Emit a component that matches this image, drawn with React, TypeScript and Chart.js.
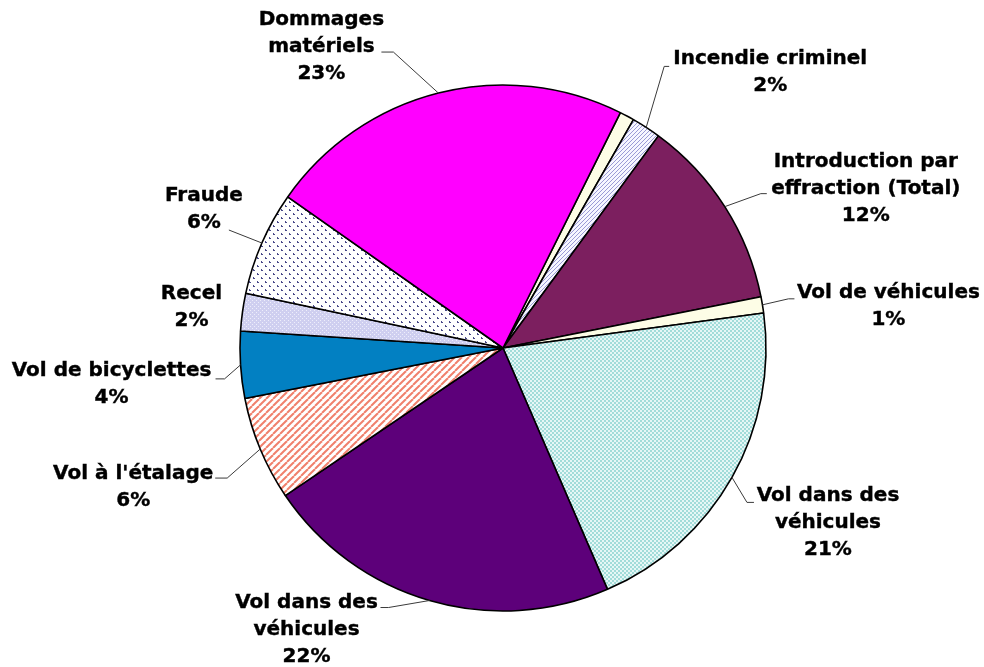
import React, { useEffect, useRef } from "react";
import { Chart, registerables } from "chart.js";

Chart.register(...registerables);

// Slices in clockwise order, starting just right of the top
const categories = [
  "",
  "Incendie criminel",
  "Introduction par\neffraction (Total)",
  "Vol de véhicules",
  "Vol dans des\nvéhicules",
  "Vol dans des\nvéhicules",
  "Vol à l'étalage",
  "Vol de bicyclettes",
  "Recel",
  "Fraude",
  "Dommages\nmatériels",
];
const values = [0.9, 1.8, 11.8, 1.0, 20.6, 22.0, 6.4, 4.1, 2.3, 6.4, 22.6];

// Label layout: block centre offset from the slice's outer mid point, leader attach offset from block centre, stub length
const labelLayout = [
  null,
  { dx: 124, dy: -55, ax: -101, ay: -6, stub: -5 },
  { dx: 141, dy: -18, ax: -99, ay: 5, stub: -6 },
  { dx: 126, dy: 1, ax: -94, ay: -7, stub: -6 },
  { dx: 96, dy: 45, ax: -74, ay: -20, stub: -7 },
  { dx: -123, dy: 29, ax: 74, ay: -22, stub: 8 },
  { dx: -127, dy: 38, ax: 82, ay: -9, stub: 12 },
  { dx: -129, dy: 19, ax: 104, ay: -5, stub: 9 },
  { dx: -51, dy: -5, ax: 0, ay: 0, stub: 0, noLeader: true },
  { dx: -58, dy: -34, ax: 25, ay: 21, stub: 0 },
  { dx: -117, dy: -46, ax: 60, ay: 5, stub: 12 },
];

function makePattern(kind: string): CanvasPattern | string {
  const c = document.createElement("canvas");
  const ctx = c.getContext("2d")!;
  if (kind === "redStripe") {
    c.width = 7; c.height = 7;
    ctx.fillStyle = "#ffffff"; ctx.fillRect(0, 0, 7, 7);
    ctx.strokeStyle = "#f0806c"; ctx.lineWidth = 2;
    for (let k = -7; k <= 14; k += 7) {
      ctx.beginPath(); ctx.moveTo(k, 7); ctx.lineTo(k + 7, 0); ctx.stroke();
    }
  } else if (kind === "blueStripe") {
    c.width = 4; c.height = 4;
    ctx.fillStyle = "#f6f6ff"; ctx.fillRect(0, 0, 4, 4);
    ctx.strokeStyle = "#9a9ad6"; ctx.lineWidth = 1;
    for (let k = -4; k <= 8; k += 4) {
      ctx.beginPath(); ctx.moveTo(k, 4); ctx.lineTo(k + 4, 0); ctx.stroke();
    }
  } else if (kind === "cyanDots") {
    c.width = 4; c.height = 4;
    ctx.fillStyle = "#e6f7f6"; ctx.fillRect(0, 0, 4, 4);
    ctx.fillStyle = "#a2dcd9";
    ctx.fillRect(0, 0, 2, 2); ctx.fillRect(2, 2, 2, 2);
  } else if (kind === "lavender") {
    c.width = 4; c.height = 4;
    ctx.fillStyle = "#cfcff0"; ctx.fillRect(0, 0, 4, 4);
    ctx.fillStyle = "#eeeefb";
    ctx.fillRect(0, 0, 1, 1); ctx.fillRect(2, 2, 1, 1);
  } else if (kind === "dots") {
    c.width = 8; c.height = 8;
    ctx.fillStyle = "#ffffff"; ctx.fillRect(0, 0, 8, 8);
    ctx.fillStyle = "#4a4a8a";
    ctx.fillRect(1, 1, 1, 2); ctx.fillRect(2, 2, 1, 1);
    ctx.fillRect(5, 5, 1, 2); ctx.fillRect(6, 6, 1, 1);
  }
  return ctx.createPattern(c, "repeat")!;
}

const labelPlugin = {
  id: "pieLabels",
  afterDraw(chart: any) {
    const ctx = chart.ctx;
    const meta = chart.getDatasetMeta(0);
    const data = chart.data.datasets[0].data as number[];
    const total = data.reduce((a, b) => a + b, 0);
    const lh = 27;
    ctx.save();
    ctx.font = "bold 20px 'DejaVu Sans'";
    ctx.textAlign = "center";
    ctx.textBaseline = "middle";
    meta.data.forEach((arc: any, i: number) => {
      const lay = labelLayout[i];
      const name = chart.data.labels[i] as string;
      if (!lay || !name) return;
      const p = arc.getProps(["x", "y", "startAngle", "endAngle", "outerRadius"], true);
      const mid = (p.startAngle + p.endAngle) / 2;
      const ex = p.x + p.outerRadius * Math.cos(mid);
      const ey = p.y + p.outerRadius * Math.sin(mid);
      const cx = ex + lay.dx;
      const cy = ey + lay.dy;
      const lines = name.split("\n").concat([Math.round((data[i] / total) * 100) + "%"]);
      if (!lay.noLeader) {
        const axp = cx + lay.ax;
        const ayp = cy + lay.ay;
        ctx.strokeStyle = "#3a3a3a";
        ctx.lineWidth = 1;
        ctx.beginPath();
        ctx.moveTo(axp, ayp);
        ctx.lineTo(axp + lay.stub, ayp);
        ctx.lineTo(ex, ey);
        ctx.stroke();
      }
      ctx.fillStyle = "#000000";
      ctx.strokeStyle = "#000000";
      ctx.lineWidth = 0.4;
      lines.forEach((t, k) => {
        const ty = cy + (k - (lines.length - 1) / 2) * lh;
        ctx.fillText(t, cx, ty);
        ctx.strokeText(t, cx, ty);
      });
    });
    ctx.restore();
  },
};

export default function App() {
  const ref = useRef<HTMLCanvasElement>(null);
  useEffect(() => {
    document.body.style.margin = "0";
    const colors = [
      "#fdfde6",
      makePattern("blueStripe"),
      "#7c1f5f",
      "#fdfde6",
      makePattern("cyanDots"),
      "#5d007a",
      makePattern("redStripe"),
      "#0280c2",
      makePattern("lavender"),
      makePattern("dots"),
      "#ff00ff",
    ];
    const chart = new Chart(ref.current!, {
      type: "pie",
      data: {
        labels: categories,
        datasets: [
          {
            data: values,
            backgroundColor: colors as any,
            borderColor: "#000000",
            borderWidth: 1.6,
            hoverOffset: 0,
            offset: 0,
            radius: 263,
          } as any,
        ],
      },
      options: {
        responsive: false,
        animation: false,
        devicePixelRatio: 1,
        rotation: 26.5,
        layout: { padding: { left: 22, right: 0, top: 29, bottom: 0 } },
        plugins: { legend: { display: false }, tooltip: { enabled: false } },
      } as any,
      plugins: [labelPlugin],
    });
    return () => chart.destroy();
  }, []);
  return (
    <div style={{ position: "absolute", left: 0, top: 0, width: 984, height: 667, background: "#ffffff" }}>
      <canvas ref={ref} width={984} height={667} style={{ width: 984, height: 667 }} />
    </div>
  );
}
